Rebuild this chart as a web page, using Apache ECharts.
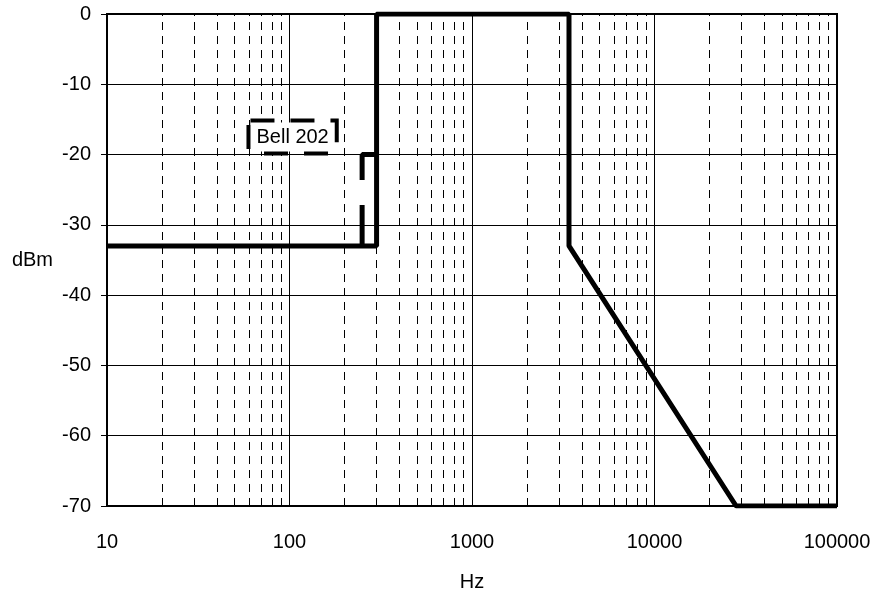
<!DOCTYPE html>
<html>
<head>
<meta charset="utf-8">
<script src="https://cdn.jsdelivr.net/npm/echarts@6/dist/echarts.min.js"></script>
<style>html,body{margin:0;padding:0;background:#fff;}#c{width:876px;height:605px;}</style>
</head>
<body>
<div id="c"></div>
<script>
// Frequency response mask (solid) and Bell 202 segment (dashed)
var maskData = [[10, -33], [300, -33], [300, 0], [3400, 0], [3400, -33], [28000, -70], [100000, -70]];
var bellData = [[300, -20], [250, -20], [250, -33]];
var bellLabel = 'Bell 202';
var bellLabelPos = [104, -17.5];
var xTickValues = [10, 100, 1000, 10000, 100000];
var yTicks = [0, -10, -20, -30, -40, -50, -60, -70];
var minorGridX = [20, 30, 40, 50, 60, 70, 80, 90,
  200, 300, 400, 500, 600, 700, 800, 900,
  2000, 3000, 4000, 5000, 6000, 7000, 8000, 9000,
  20000, 30000, 40000, 50000, 60000, 70000, 80000, 90000];

var font = 'Arial, "Liberation Sans", sans-serif';
var chart = echarts.init(document.getElementById('c'));
chart.setOption({
  animation: false,
  backgroundColor: '#fff',
  grid: { left: 107, right: 39, top: 14, bottom: 99, show: true, borderColor: '#000', borderWidth: 2, backgroundColor: 'transparent' },
  xAxis: {
    type: 'log', logBase: 10, min: 10, max: 100000,
    name: 'Hz', nameLocation: 'middle', nameGap: 66,
    nameTextStyle: { color: '#000', fontSize: 20, fontFamily: font },
    axisLine: { show: true, lineStyle: { color: '#000', width: 2 } },
    axisTick: { show: true, length: 6, lineStyle: { color: '#000', width: 1 } },
    axisLabel: { color: '#000', fontSize: 20, fontFamily: font, margin: 26,
      formatter: function (v) { return String(Math.round(v)); } },
    splitLine: { show: true, lineStyle: { color: '#000', width: 1 } },
    minorTick: { show: false }, minorSplitLine: { show: false }
  },
  yAxis: {
    type: 'value', min: -70, max: 0, interval: 10,
    name: 'dBm', nameLocation: 'middle', nameRotate: 0, nameGap: 54,
    nameTextStyle: { color: '#000', fontSize: 20, fontFamily: font, align: 'right' },
    axisLine: { show: true, lineStyle: { color: '#000', width: 2 } },
    axisTick: { show: true, length: 6, lineStyle: { color: '#000', width: 1 } },
    axisLabel: { color: '#000', fontSize: 20, fontFamily: font, margin: 16 },
    splitLine: { show: true, lineStyle: { color: '#000', width: 1 } }
  },
  series: [
    {
      type: 'line', data: [], silent: true,
      markLine: {
        silent: true, symbol: 'none', label: { show: false },
        lineStyle: { color: '#000', width: 1, type: [8, 6] },
        animation: false,
        data: minorGridX.map(function (v) { return { xAxis: v }; })
      }
    },
    {
      type: 'line', data: maskData, showSymbol: false, symbol: 'none',
      lineStyle: { color: '#000', width: 5 }, z: 5
    },
    {
      type: 'line', data: bellData, showSymbol: false, symbol: 'none',
      lineStyle: { color: '#000', width: 5, type: [40, 25] }, z: 4,
      markPoint: {
        symbol: 'rect', symbolSize: 0, silent: true,
        data: [{ coord: bellLabelPos, value: bellLabel }],
        label: {
          show: true, position: 'inside', formatter: bellLabel,
          color: '#000', fontSize: 20, fontFamily: font,
          backgroundColor: '#fff', borderColor: '#000', borderWidth: 4,
          borderType: [24, 16], padding: [5, 6, 4, 6]
        }
      }
    }
  ]
});
</script>
</body>
</html>
